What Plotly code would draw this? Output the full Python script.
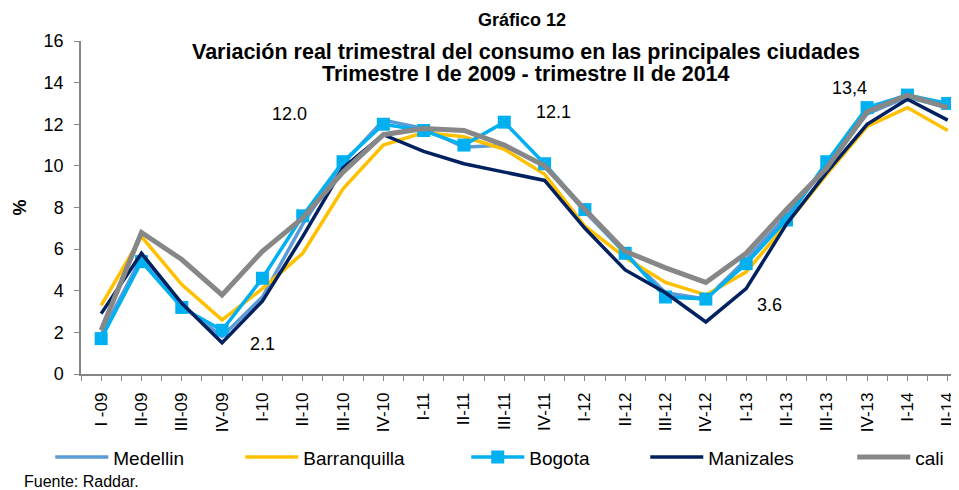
import plotly.graph_objects as go

quarters = ["I -09", "II-09", "III-09", "IV-09", "I-10", "II-10", "III-10", "IV-10",
            "I-11", "II-11", "III-11", "IV-11", "I-12", "II-12", "III-12", "IV-12",
            "I-13", "II-13", "III-13", "IV-13", "I-14", "II-14"]

medellin = [1.9, 5.6, 3.3, 1.8, 3.7, 7.2, 10.1, 12.2, 11.8, 10.9, 11.0, 10.0,
            7.8, 5.8, 3.9, 3.6, 5.5, 7.6, 10.0, 12.5, 13.3, 12.8]
barranquilla = [3.3, 6.6, 4.3, 2.6, 4.1, 5.8, 8.9, 11.0, 11.6, 11.4, 10.8, 9.6,
                7.1, 5.6, 4.4, 3.8, 4.9, 7.2, 9.6, 11.9, 12.8, 11.7]
bogota = [1.7, 5.4, 3.2, 2.1, 4.6, 7.6, 10.2, 12.0, 11.7, 11.0, 12.1, 10.1,
          7.9, 5.8, 3.7, 3.6, 5.3, 7.4, 10.2, 12.8, 13.4, 13.0]
manizales = [2.9, 5.8, 3.4, 1.5, 3.5, 6.6, 9.9, 11.5, 10.7, 10.1, 9.7, 9.3,
             7.0, 5.0, 3.9, 2.5, 4.1, 7.2, 9.7, 12.0, 13.2, 12.2]
cali = [2.1, 6.8, 5.5, 3.8, 5.9, 7.5, 9.7, 11.5, 11.8, 11.7, 11.0, 10.0,
        7.9, 5.9, 5.1, 4.4, 5.8, 7.9, 9.9, 12.6, 13.4, 12.8]

series_names = ["Medellin", "Barranquilla", "Bogota", "Manizales", "cali"]
y_ticks = [0, 2, 4, 6, 8, 10, 12, 14, 16]
value_labels = ["12.0", "2.1", "12.1", "3.6", "13,4"]

title_text = "Gráfico 12"
subtitle_lines = ["Variación real trimestral del consumo en las principales ciudades",
                  "Trimestre I de 2009 - trimestre II de 2014"]
source_text = "Fuente: Raddar."

FONT = "Liberation Sans, Arial, sans-serif"
idx = list(range(len(quarters)))

styles = {
    "Medellin": dict(color="#5B9BD5", width=3.5),
    "Barranquilla": dict(color="#FFC000", width=3.5),
    "Bogota": dict(color="#00B0F0", width=3.5),
    "Manizales": dict(color="#002060", width=3.5),
    "cali": dict(color="#878787", width=5),
}
legend_widths = {"Medellin": 122, "Barranquilla": 158, "Bogota": 111, "Manizales": 139, "cali": 40}

fig = go.Figure()
for name, vals in zip(series_names, [medellin, barranquilla, bogota, manizales, cali]):
    kw = dict(mode="lines")
    if name == "Bogota":
        kw = dict(mode="lines+markers", marker=dict(symbol="square", size=13, color="#00B0F0"))
    fig.add_trace(go.Scatter(x=idx, y=vals, name=name, line=styles[name],
                             legendwidth=legend_widths[name], **kw))

label_pos = [(4.67, 12.48), (4.0, 1.43), (11.22, 12.58), (16.58, 3.30), (18.56, 13.73)]
annotations = []
for txt, (ax, ay) in zip(value_labels, label_pos):
    annotations.append(dict(x=ax, y=ay, xref="x", yref="y", text=txt, showarrow=False,
                            font=dict(family=FONT, size=18, color="#000000")))

annotations += [
    dict(x=0.502, y=1.0625, xref="paper", yref="paper", text="<b>" + title_text + "</b>",
         showarrow=False, font=dict(family=FONT, size=18, color="#000000"), yanchor="middle"),
    dict(x=0.507, y=0.966, xref="paper", yref="paper", text="<b>" + subtitle_lines[0] + "</b>",
         showarrow=False, font=dict(family=FONT, size=21.5, color="#000000"), yanchor="middle"),
    dict(x=0.507, y=0.900, xref="paper", yref="paper", text="<b>" + subtitle_lines[1] + "</b>",
         showarrow=False, font=dict(family=FONT, size=21.5, color="#000000"), yanchor="middle"),
    dict(x=-0.067, y=-0.322, xref="paper", yref="paper", text=source_text, xanchor="left",
         showarrow=False, font=dict(family=FONT, size=16, color="#000000"), yanchor="middle"),
]

minor_vals = [i - 0.5 for i in range(len(quarters) + 1)]

# the page body has an 8px margin, so the figure is sized to fill the rest of the window
fig.update_layout(
    width=951, height=482,
    margin=dict(l=73, r=0, t=33, b=116, autoexpand=False),
    paper_bgcolor="white", plot_bgcolor="white",
    font=dict(family=FONT, color="#000000"),
    showlegend=True,
    legend=dict(orientation="h", x=-0.035, y=-0.25, xanchor="left", yanchor="middle",
                itemwidth=53, font=dict(family=FONT, size=19, color="#000000"),
                bgcolor="rgba(0,0,0,0)", traceorder="normal"),
    annotations=annotations,
    xaxis=dict(range=[-0.5, 21.28], tickmode="array", tickvals=idx, ticktext=quarters,
               tickangle=-90, showgrid=False, zeroline=False, automargin=False,
               showline=True, linecolor="#868686", linewidth=1.5,
               ticks="outside", ticklen=5, tickcolor="#868686", tickwidth=1,
               tickfont=dict(family=FONT, size=17, color="#000000"),
               ticklabelstandoff=5,
               minor=dict(tickmode="array", tickvals=minor_vals, ticks="outside",
                          ticklen=5, tickcolor="#868686", tickwidth=1, showgrid=False)),
    yaxis=dict(range=[0, 16], tickmode="array", tickvals=y_ticks, showgrid=False,
               zeroline=False, showline=True, linecolor="#868686", linewidth=1.5,
               automargin=False,
               ticks="outside", ticklen=5, tickcolor="#868686", tickwidth=1,
               tickfont=dict(family=FONT, size=18, color="#000000"),
               ticklabelstandoff=7,
               title=dict(text="<b>%</b>", font=dict(family=FONT, size=18, color="#000000"),
                          standoff=12)),
)

fig.write_html("out.html")
